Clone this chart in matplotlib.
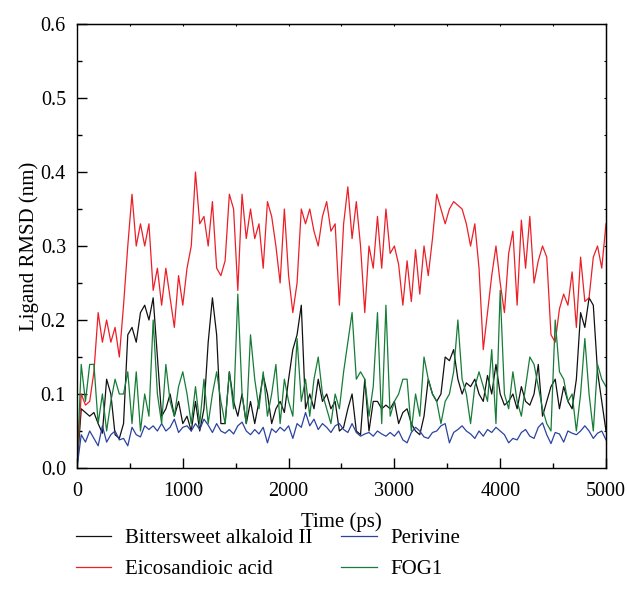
import matplotlib
matplotlib.use("Agg")
import matplotlib.pyplot as plt
import numpy as np
from matplotlib.ticker import MultipleLocator, FormatStrFormatter

plt.rcParams['font.family'] = ['Liberation Serif', 'DejaVu Serif']

T_END = 5000

# Ligand RMSD (nm), one value every 40 ps
bittersweet = [
    0.0, 0.08, 0.075, 0.07, 0.075, 0.06, 0.047, 0.12, 0.10, 0.045,
    0.04, 0.06, 0.18, 0.19, 0.17, 0.21, 0.22, 0.20, 0.23, 0.15,
    0.07, 0.08, 0.10, 0.07, 0.09, 0.06,
    0.07, 0.05, 0.09, 0.05, 0.08, 0.17, 0.23, 0.18, 0.06, 0.06,
    0.13, 0.09, 0.07, 0.10, 0.06, 0.09, 0.06, 0.09, 0.125, 0.10,
    0.06, 0.08, 0.09, 0.075, 0.12,
    0.16, 0.18, 0.22, 0.08, 0.10, 0.08, 0.12, 0.09, 0.10, 0.08,
    0.09, 0.05, 0.055, 0.08, 0.10, 0.05, 0.045, 0.12, 0.05, 0.09,
    0.09, 0.08, 0.085, 0.08,
    0.09, 0.06, 0.075, 0.08, 0.06, 0.05, 0.045, 0.07, 0.12, 0.10,
    0.09, 0.10, 0.15, 0.145, 0.16, 0.12, 0.10, 0.115, 0.11, 0.12,
    0.10, 0.09, 0.125, 0.10, 0.14,
    0.10, 0.085, 0.09, 0.10, 0.08, 0.11, 0.09, 0.085, 0.10, 0.14,
    0.07, 0.09, 0.11, 0.12, 0.08, 0.11, 0.09, 0.08, 0.12, 0.21,
    0.19, 0.23, 0.22, 0.13, 0.09, 0.05,
]

eicosandioic = [
    0.0, 0.10, 0.085, 0.09, 0.13, 0.21, 0.17, 0.20, 0.17, 0.19,
    0.15, 0.22, 0.30, 0.37, 0.30, 0.33, 0.30, 0.33, 0.24, 0.27,
    0.22, 0.27, 0.23, 0.19, 0.26, 0.22,
    0.27, 0.30, 0.40, 0.33, 0.34, 0.30, 0.36, 0.27, 0.26, 0.28,
    0.37, 0.35, 0.24, 0.37, 0.31, 0.35, 0.31, 0.33, 0.27, 0.36,
    0.34, 0.30, 0.25, 0.35, 0.26,
    0.21, 0.25, 0.35, 0.33, 0.35, 0.32, 0.30, 0.34, 0.36, 0.32,
    0.33, 0.22, 0.33, 0.38, 0.31, 0.36, 0.30, 0.21, 0.30, 0.27,
    0.34, 0.27, 0.35, 0.29,
    0.30, 0.275, 0.22, 0.28, 0.225, 0.295, 0.235, 0.30, 0.26, 0.31,
    0.37, 0.35, 0.33, 0.35, 0.36, 0.355, 0.35, 0.33, 0.30, 0.33,
    0.27, 0.16, 0.21, 0.26, 0.30,
    0.25, 0.21, 0.29, 0.32, 0.22, 0.335, 0.27, 0.34, 0.25, 0.28,
    0.30, 0.285, 0.18, 0.17, 0.215, 0.235, 0.22, 0.265, 0.19, 0.285,
    0.225, 0.23, 0.285, 0.30, 0.27, 0.33,
]

perivine = [
    0.0, 0.045, 0.035, 0.05, 0.04, 0.03, 0.057, 0.035, 0.045, 0.05,
    0.038, 0.04, 0.03, 0.055, 0.045, 0.042, 0.057, 0.052, 0.057, 0.05,
    0.06, 0.05, 0.055, 0.066, 0.048, 0.055,
    0.057, 0.05, 0.06, 0.052, 0.066, 0.058, 0.048, 0.06, 0.05, 0.047,
    0.052, 0.046, 0.057, 0.062, 0.05, 0.045, 0.052, 0.046, 0.055, 0.034,
    0.053, 0.048, 0.055, 0.05, 0.057,
    0.04, 0.06, 0.055, 0.075, 0.057, 0.066, 0.052, 0.06, 0.055, 0.048,
    0.057, 0.06, 0.052, 0.048, 0.06, 0.048, 0.043, 0.046, 0.048, 0.043,
    0.05, 0.046, 0.043, 0.048,
    0.043, 0.05, 0.038, 0.034, 0.048, 0.055, 0.05, 0.042, 0.04, 0.048,
    0.05, 0.057, 0.06, 0.034, 0.048, 0.052, 0.057, 0.05, 0.046, 0.04,
    0.05, 0.043, 0.052, 0.048, 0.055,
    0.05, 0.045, 0.034, 0.04, 0.038, 0.048, 0.052, 0.043, 0.04, 0.055,
    0.061, 0.045, 0.033, 0.048, 0.046, 0.035, 0.05, 0.047, 0.045, 0.05,
    0.057, 0.05, 0.04, 0.047, 0.05, 0.038,
]

fog1 = [
    0.0, 0.14, 0.09, 0.14, 0.14, 0.06, 0.10, 0.05, 0.09, 0.12,
    0.10, 0.10, 0.13, 0.06, 0.13, 0.05, 0.10, 0.07, 0.20, 0.10,
    0.06, 0.14, 0.09, 0.07, 0.11, 0.13,
    0.10, 0.06, 0.11, 0.06, 0.12, 0.06, 0.10, 0.13, 0.09, 0.06,
    0.13, 0.08, 0.235, 0.10, 0.06, 0.18, 0.12, 0.08, 0.13, 0.07,
    0.10, 0.14, 0.06, 0.12, 0.09,
    0.07, 0.175, 0.09, 0.12, 0.07, 0.12, 0.15, 0.10, 0.08, 0.06,
    0.10, 0.08, 0.13, 0.17, 0.21, 0.12, 0.13, 0.12, 0.07, 0.11,
    0.21, 0.06, 0.22, 0.07,
    0.09, 0.10, 0.12, 0.12, 0.05, 0.10, 0.07, 0.15, 0.12, 0.10,
    0.09, 0.06, 0.09, 0.10, 0.13, 0.20, 0.12, 0.10, 0.06, 0.11,
    0.13, 0.11, 0.09, 0.16, 0.06,
    0.24, 0.10, 0.08, 0.13, 0.09, 0.07, 0.11, 0.15, 0.14, 0.11,
    0.08, 0.06, 0.05, 0.20, 0.13, 0.12, 0.09, 0.10, 0.05, 0.10,
    0.175, 0.10, 0.05, 0.14, 0.12, 0.11,
]

series = [
    ("Bittersweet alkaloid II", bittersweet, "#111111"),
    ("Eicosandioic acid", eicosandioic, "#ec1f27"),
    ("Perivine", perivine, "#2a43a0"),
    ("FOG1", fog1, "#167c37"),
]

fig = plt.figure(figsize=(6.27, 5.99), dpi=100)
ax = fig.add_axes([0.1228, 0.2187, 0.8437, 0.7412])

for name, vals, col in series:
    t = np.linspace(0, T_END, len(vals))
    ax.plot(t, vals, color=col, lw=0.9, label=name)

ax.set_xlim(0, T_END)
ax.set_ylim(0, 0.6)
ax.xaxis.set_major_locator(MultipleLocator(1000))
ax.xaxis.set_minor_locator(MultipleLocator(500))
ax.yaxis.set_major_locator(MultipleLocator(0.1))
ax.yaxis.set_minor_locator(MultipleLocator(0.05))
ax.yaxis.set_major_formatter(FormatStrFormatter('%.1f'))

ax.tick_params(which='major', direction='in', length=7, width=1.0,
               labelsize=14.5)
ax.tick_params(axis='x', which='major', pad=10)
ax.tick_params(axis='y', which='major', pad=8)
ax.tick_params(which='minor', direction='in', length=3.5, width=1.0)
for s in ax.spines.values():
    s.set_linewidth(1.0)

# tiny ticks on the top and right frame
top = ax.secondary_xaxis('top')
top.xaxis.set_major_locator(MultipleLocator(500))
top.tick_params(direction='in', length=1.5, width=0.8, labeltop=False)
right = ax.secondary_yaxis('right')
right.yaxis.set_major_locator(MultipleLocator(0.05))
right.tick_params(direction='in', length=1.5, width=0.8, labelright=False)

ax.set_xlabel("Time (ps)", fontsize=15, labelpad=8)
ax.set_ylabel("Ligand RMSD (nm)", fontsize=15, labelpad=1)

fig.legend(loc='upper left', bbox_to_anchor=(0.121, 0.118), ncol=2,
           frameon=False, fontsize=15, handlelength=1.7, handletextpad=0.65,
           columnspacing=1.4, labelspacing=0.55, borderpad=0, borderaxespad=0)

fig.savefig("out.png", dpi=100)
